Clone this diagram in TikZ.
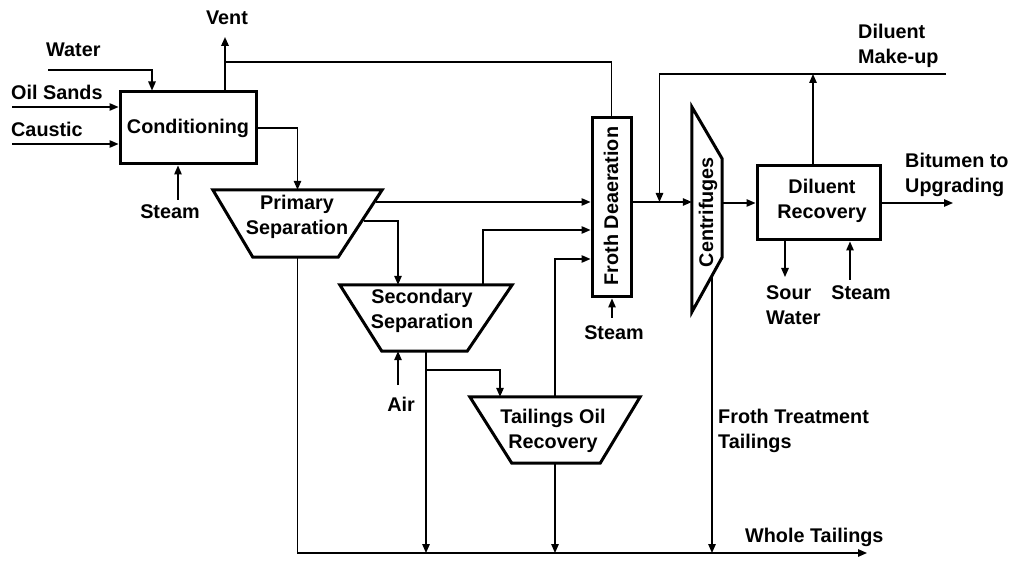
\documentclass[tikz,border=0pt]{standalone}
\usepackage{fontspec}
\setmainfont{Liberation Sans}
\usetikzlibrary{arrows.meta,calc}
\begin{document}
\begin{tikzpicture}[x=1pt,y=-1pt,
  font=\fontsize{19.8}{24.5}\selectfont\bfseries,
  line/.style={line width=1.3pt},
  arr/.style={line width=1.3pt,-{Triangle[length=9pt,width=7.5pt]}},
  unit/.style={draw,line width=3pt,inner sep=0pt},
  shp/.style={inner sep=0pt},
  outline/.style={line width=3pt,line join=miter},
  lbl/.style={inner sep=0pt,align=center},
  lbll/.style={inner sep=0pt,align=left,anchor=west}]
\useasboundingbox (0,0) rectangle (1020,569);

% units
\node[unit,minimum width=136pt,minimum height=72pt] (cond) at (188,128) {};
\node[shp,minimum width=169pt,minimum height=67pt] (prim) at (297.5,223.5) {};
\node[shp,minimum width=172pt,minimum height=66pt] (sec) at (426,318) {};
\node[shp,minimum width=170pt,minimum height=66pt] (tor) at (555,430) {};
\node[unit,minimum width=39pt,minimum height=179pt] (froth) at (611.5,207.5) {};
\node[shp,minimum width=30pt,minimum height=205pt] (cent) at (707,209.5) {};
\node[unit,minimum width=123pt,minimum height=74pt] (dil) at (818.5,203) {};

\draw[outline] (prim.north west) -- (prim.north east) -- ([xshift=-44pt]prim.south east) -- ([xshift=40pt]prim.south west) -- cycle;
\draw[outline] (sec.north west) -- (sec.north east) -- ([xshift=-45pt]sec.south east) -- ([xshift=42pt]sec.south west) -- cycle;
\draw[outline] (tor.north west) -- (tor.north east) -- ([xshift=-40pt]tor.south east) -- ([xshift=42pt]tor.south west) -- cycle;
\draw[outline] (cent.north west) -- ($(cent.north east)+(0,52)$) -- ($(cent.south east)+(0,-55)$) -- (cent.south west) -- cycle;

% unit texts
\node[lbl] (tcond) at (188,128) {Conditioning};
\node[lbl] (tprim) at (297,217) {Primary\\Separation};
\node[lbl] (tsec) at (422,311) {Secondary\\Separation};
\node[lbl] (ttor) at (553,431) {Tailings Oil\\Recovery};
\node[lbl,rotate=90] (tfroth) at (611,206) {Froth Deaeration};
\node[lbl,rotate=90] (tcent) at (708,212) {Centrifuges};
\node[lbl] (tdil) at (822,201) {Diluent\\Recovery};

% coordinates
\coordinate (water) at (48,70);
\coordinate (oil) at (12,107);
\coordinate (caus) at (12,144);
\coordinate (st1) at (178,200);
\coordinate (vent) at (225,37);
\coordinate (vj) at (225,62);
\coordinate (p1) at (376,202);
\coordinate (p2) at (364,221);
\coordinate (wt) at (867,553);
\coordinate (air) at (398,385);
\coordinate (b1) at (426,370);
\coordinate (st2) at (612,318);
\coordinate (fin1) at ($(froth.west)+(0,-5.5)$);
\coordinate (fin2) at ($(froth.west)+(0,22.5)$);
\coordinate (fin3) at ($(froth.west)+(0,51.5)$);
\coordinate (fout) at ($(froth.east)+(0,-5.5)$);
\coordinate (mj) at ($(fout)+(27,0)$);
\coordinate (dm) at (946,74);
\coordinate (bit) at (953,203);
\coordinate (sw) at (785,277);
\coordinate (st3) at (850,280);
\coordinate (cb) at (712,277);

% connectors
\draw[arr] (water) -| ([xshift=-36pt]cond.north);
\draw[arr] (oil) -- (oil -| cond.west);
\draw[arr] (caus) -- (caus -| cond.west);
\draw[arr] (st1) -- (st1 |- cond.south);
\draw[arr,line width=1.8pt] (vent |- cond.north) -- (vent);
\draw[line] (froth.north) |- (vj);
\draw[arr] (cond.east) -| (prim.north);
\draw[arr] (p1) -- (fin1);
\draw[arr] (p2) -| ([xshift=-28pt]sec.north);
\draw[arr] (prim.south) |- (wt);
\draw[arr] ([xshift=57pt]sec.north) |- (fin2);
\draw[arr] (air) -- (air |- sec.south);
\draw[arr] (sec.south) -- (sec.south |- wt);
\draw[arr] (b1) -| ([xshift=-55pt]tor.north);
\draw[arr] (tor.north) |- (fin3);
\draw[arr] (tor.south) -- (tor.south |- wt);
\draw[arr] (st2) -- (st2 |- froth.south);
\draw[arr] (fout) -- (fout -| cent.west);
\draw[arr] (dm) -| (mj);
\draw[arr] ([xshift=-5.5pt]dil.north) -- ([xshift=-5.5pt]dil.north |- dm);
\draw[arr] (cent.east |- dil.west) -- (dil.west);
\draw[arr] (dil.east) -- (bit);
\draw[arr] (sw |- dil.south) -- (sw);
\draw[arr] (st3) -- (st3 |- dil.south);
\draw[arr] (cb) -- (cb |- wt);

% labels
\node[lbll] (lwater) at (46,50) {Water};
\node[lbll] (loil) at (11,92) {Oil Sands};
\node[lbll] (lcaus) at (11,129) {Caustic};
\node[lbl] (lst1) at (170,212) {Steam};
\node[lbl] (lvent) at (227,18) {Vent};
\node[lbl] (lair) at (401,404) {Air};
\node[lbl] (lst2) at (614,333) {Steam};
\node[lbll] (ldm) at (858,46) {Diluent\\Make-up};
\node[lbll] (lbit) at (905,175) {Bitumen to\\Upgrading};
\node[lbll] (lsour) at (766,305) {Sour\\Water};
\node[lbl] (lst3) at (861,293) {Steam};
\node[lbll] (lft) at (718,431) {Froth Treatment\\Tailings};
\node[lbll] (lwt) at (745,537) {Whole Tailings};
\end{tikzpicture}
\end{document}
